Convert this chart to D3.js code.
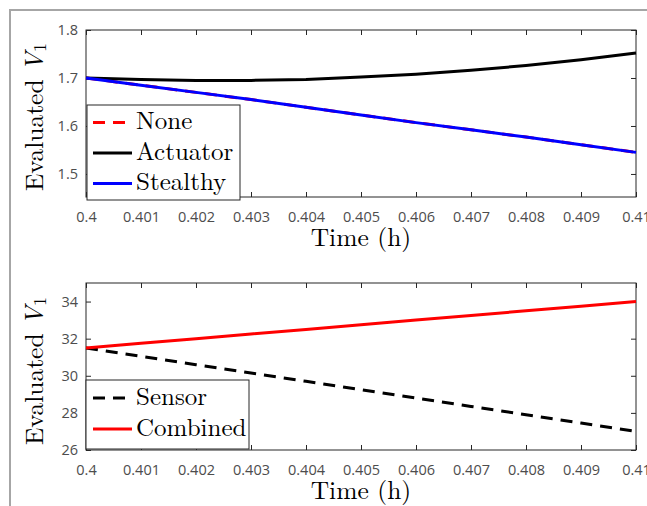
<!DOCTYPE html>
<html>
<head>
<meta charset="utf-8">
<script src="https://cdn.jsdelivr.net/npm/d3@7"></script>
<style>
  html, body { margin: 0; padding: 0; background: #fff; }
  svg { display: block; }
</style>
</head>
<body>
<script>
// Time samples (h)
const time = [0.400, 0.401, 0.402, 0.403, 0.404, 0.405, 0.406, 0.407, 0.408, 0.409, 0.410];

// Upper panel series
const noneV1      = [1.700, 1.685, 1.670, 1.655, 1.639, 1.623, 1.607, 1.592, 1.577, 1.561, 1.545];
const actuatorV1  = [1.700, 1.697, 1.695, 1.695, 1.697, 1.702, 1.708, 1.716, 1.726, 1.738, 1.752];
const stealthyV1  = [1.700, 1.685, 1.670, 1.655, 1.639, 1.623, 1.607, 1.592, 1.577, 1.561, 1.545];

// Lower panel series
const sensorV1    = [31.5, 31.05, 30.6, 30.15, 29.7, 29.25, 28.8, 28.35, 27.9, 27.45, 27.0];
const combinedV1  = [31.5, 31.75, 32.0, 32.25, 32.5, 32.75, 33.0, 33.25, 33.5, 33.75, 34.0];

// Tick values
const xTicks = [0.400, 0.401, 0.402, 0.403, 0.404, 0.405, 0.406, 0.407, 0.408, 0.409, 0.410];
const xTickLabels = ["0.4", "0.401", "0.402", "0.403", "0.404", "0.405", "0.406", "0.407", "0.408", "0.409", "0.41"];
const yTicksTop = [1.5, 1.6, 1.7, 1.8];
const yTicksBottom = [26, 28, 30, 32, 34];

const W = 647, H = 506;
const svg = d3.select("body").append("svg").attr("width", W).attr("height", H);

// outer figure frame (top and left edges)
svg.append("path")
  .attr("d", `M10,${H} L10,10 L${W},10`)
  .attr("fill", "none").attr("stroke", "#a6a6a6").attr("stroke-width", 2);

const SERIF = '"Latin Modern Roman", "CMU Serif", "Liberation Serif", serif';
const SANS = '"Open Sans", "Noto Sans", sans-serif';
const axisColor = "#262626";
const tickTextColor = "#4d4d4d";
const labelSize = 25.5;
const legendSize = 25;

function panel(cfg) {
  const { top, bottom, yDomain, yTicks, series, legend, legendBox, yLabelY } = cfg;
  const left = 86, right = 636;
  const x = d3.scaleLinear().domain([0.4, 0.41]).range([left, right]);
  const y = d3.scaleLinear().domain(yDomain).range([bottom, top]);
  const g = svg.append("g");

  // axes box
  g.append("rect").attr("x", left).attr("y", top)
    .attr("width", right - left).attr("height", bottom - top)
    .attr("fill", "#fff").attr("stroke", axisColor).attr("stroke-width", 1);

  const tl = 5;
  // x ticks (bottom with labels, top plain; both inward)
  const xAxisB = d3.axisBottom(x).tickValues(xTicks).tickSize(-tl).tickPadding(0)
    .tickFormat((d, i) => xTickLabels[i]);
  const gxb = g.append("g").attr("transform", `translate(0,${bottom})`).call(xAxisB);
  gxb.select(".domain").remove();
  gxb.selectAll("line").attr("stroke", axisColor);
  gxb.selectAll("text").attr("y", 25).attr("dy", 0)
    .style("font-family", SANS).style("font-size", "14.5px").attr("fill", tickTextColor);

  const xAxisT = d3.axisTop(x).tickValues(xTicks).tickSize(-tl).tickFormat("");
  const gxt = g.append("g").attr("transform", `translate(0,${top})`).call(xAxisT);
  gxt.select(".domain").remove();
  gxt.selectAll("line").attr("stroke", axisColor);

  // y ticks (left with labels, right plain)
  const yAxisL = d3.axisLeft(y).tickValues(yTicks).tickSize(-tl).tickPadding(8)
    .tickFormat(d3.format(""));
  const gyl = g.append("g").attr("transform", `translate(${left},0)`).call(yAxisL);
  gyl.select(".domain").remove();
  gyl.selectAll("line").attr("stroke", axisColor);
  gyl.selectAll("text")
    .style("font-family", SANS).style("font-size", "14.5px").attr("fill", tickTextColor);

  const yAxisR = d3.axisRight(y).tickValues(yTicks).tickSize(-tl).tickFormat("");
  const gyr = g.append("g").attr("transform", `translate(${right},0)`).call(yAxisR);
  gyr.select(".domain").remove();
  gyr.selectAll("line").attr("stroke", axisColor);

  // series lines
  const line = d3.line().x((d, i) => x(time[i])).y(d => y(d));
  series.forEach(s => {
    g.append("path").datum(s.values)
      .attr("d", line)
      .attr("fill", "none")
      .attr("stroke", s.color)
      .attr("stroke-width", 3)
      .attr("stroke-dasharray", s.dash || null);
  });

  // axis titles
  g.append("text")
    .attr("x", (left + right) / 2).attr("y", bottom + 49)
    .attr("text-anchor", "middle")
    .style("font-family", SERIF).style("font-size", labelSize + "px").attr("fill", "#000")
    .text("Time (h)");

  const yl = g.append("text")
    .attr("transform", `translate(43,${yLabelY}) rotate(-90)`)
    .attr("text-anchor", "middle")
    .style("font-family", SERIF).style("font-size", labelSize + "px").attr("fill", "#000");
  yl.append("tspan").text("Evaluated ");
  yl.append("tspan").style("font-style", "italic").text("V");
  yl.append("tspan").style("font-size", "18px").attr("dy", 3).text("1");

  // legend
  const lg = g.append("g");
  lg.append("rect")
    .attr("x", legendBox.x).attr("y", legendBox.y)
    .attr("width", legendBox.w).attr("height", legendBox.h)
    .attr("fill", "#fff").attr("stroke", axisColor).attr("stroke-width", 1);
  legend.forEach((s, i) => {
    const cy = legendBox.y + legendBox.first + i * legendBox.step;
    lg.append("line")
      .attr("x1", 93).attr("x2", 132)
      .attr("y1", cy).attr("y2", cy)
      .attr("stroke", s.color).attr("stroke-width", 3)
      .attr("stroke-dasharray", s.dash || null);
    lg.append("text")
      .attr("x", 136).attr("y", cy + 6.5)
      .style("font-family", SERIF).style("font-size", legendSize + "px").attr("fill", "#000")
      .text(s.name);
  });
}

const dash = "12,8";

panel({
  top: 30, bottom: 197, yDomain: [1.452, 1.8], yTicks: yTicksTop, yLabelY: 117,
  series: [
    { name: "None", values: noneV1, color: "#ff0000", dash: dash },
    { name: "Actuator", values: actuatorV1, color: "#000000" },
    { name: "Stealthy", values: stealthyV1, color: "#0000ff" }
  ],
  legend: [
    { name: "None", color: "#ff0000", dash: dash },
    { name: "Actuator", color: "#000000" },
    { name: "Stealthy", color: "#0000ff" }
  ],
  legendBox: { x: 87, y: 105, w: 153, h: 95, first: 17.5, step: 30.5 }
});

panel({
  top: 283, bottom: 450, yDomain: [26, 35], yTicks: yTicksBottom, yLabelY: 371,
  series: [
    { name: "Sensor", values: sensorV1, color: "#000000", dash: dash },
    { name: "Combined", values: combinedV1, color: "#ff0000" }
  ],
  legend: [
    { name: "Sensor", color: "#000000", dash: dash },
    { name: "Combined", color: "#ff0000" }
  ],
  legendBox: { x: 86, y: 380, w: 163, h: 69, first: 18, step: 31 }
});
</script>
</body>
</html>
